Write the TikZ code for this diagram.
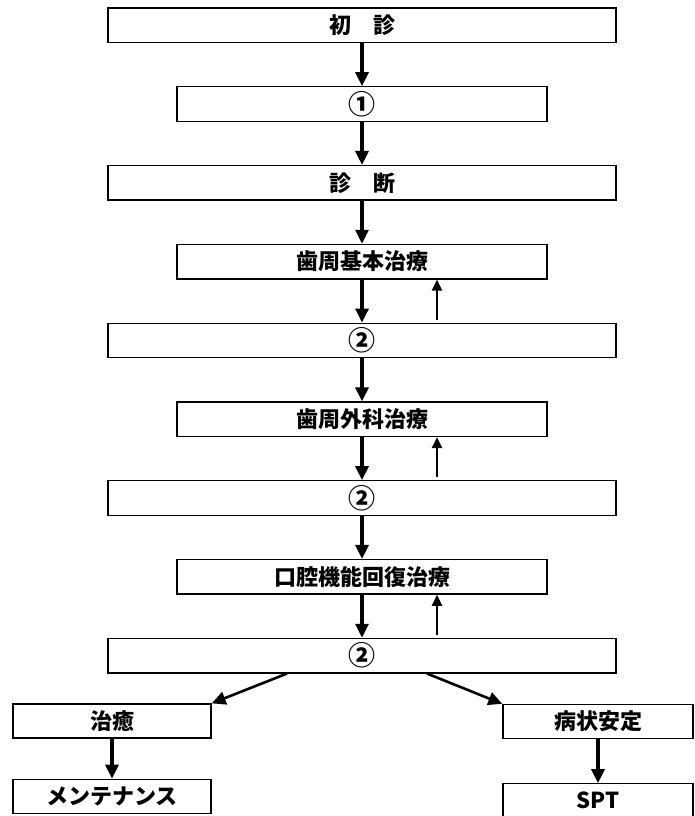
\documentclass[tikz,border=0pt]{standalone}
\usepackage{fontspec}
\newfontfamily\jpfont{Noto Sans CJK JP}
\usetikzlibrary{positioning,arrows.meta}
\newcommand{\circnum}[1]{{\fontsize{27}{30}\selectfont #1}}

\begin{document}
\begin{tikzpicture}[
    x=1pt, y=1pt,
    node distance=43pt,
    wide/.style={draw, line width=1.3pt, minimum width=508pt,
                 minimum height=34.5pt, inner sep=0pt,
                 font=\jpfont\bfseries\fontsize{22}{26}\selectfont},
    narrow/.style={wide, minimum width=370pt},
    side/.style={wide, minimum width=198pt, minimum height=34pt},
    down/.style={-{Triangle[width=13pt,length=14pt]}, line width=3.2pt},
    up/.style={-{Triangle[width=10pt,length=11pt]}, line width=2.3pt}
]
  \useasboundingbox (0,0) rectangle (695,-816);
  \node[wide] (first) at (362,-25.25) {初　診};
  \node[narrow, below=of first]  (exam)   {\circnum{①}};
  \node[wide,   below=of exam]   (diag)   {診　断};
  \node[narrow, below=of diag]   (basic)  {歯周基本治療};
  \node[wide,   below=of basic]  (check1) {\circnum{②}};
  \node[narrow, below=of check1] (surg)   {歯周外科治療};
  \node[wide,   below=of surg]   (check2) {\circnum{②}};
  \node[narrow, below=of check2] (rehab)  {口腔機能回復治療};
  \node[wide,   below=of rehab]  (check3) {\circnum{②}};
  \node[side] (cure) at (112,-721) {治癒};
  \node[side, below=40pt of cure] (maint) {メンテナンス};
  \node[side, minimum width=190pt] (stable) at (598,-721.5) {病状安定};
  \node[side, minimum width=190pt, below=44pt of stable] (spt) {SPT};
  \draw[down] (first) -- (exam);
  \draw[down] (exam) -- (diag);
  \draw[down] (diag) -- (basic);
  \draw[down] (basic) -- (check1);
  \draw[down] (check1) -- (surg);
  \draw[down] (surg) -- (check2);
  \draw[down] (check2) -- (rehab);
  \draw[down] (rehab) -- (check3);
  % way back when the check fails
  \draw[up, shorten <=3pt] ([xshift=75pt]check1.north) -- ([xshift=75pt]basic.south);
  \draw[up, shorten <=3pt] ([xshift=75pt]check2.north) -- ([xshift=75pt]surg.south);
  \draw[up, shorten <=3pt] ([xshift=75pt]check3.north) -- ([xshift=75pt]rehab.south);
  \draw[down, line width=2.6pt] ([xshift=-75pt]check3.south) -- (cure.north east);
  \draw[down, line width=2.6pt] ([xshift=65pt]check3.south) -- (stable.north west);
  \draw[down] (cure) -- (maint);
  \draw[down] (stable) -- (spt);
\end{tikzpicture}
\end{document}
